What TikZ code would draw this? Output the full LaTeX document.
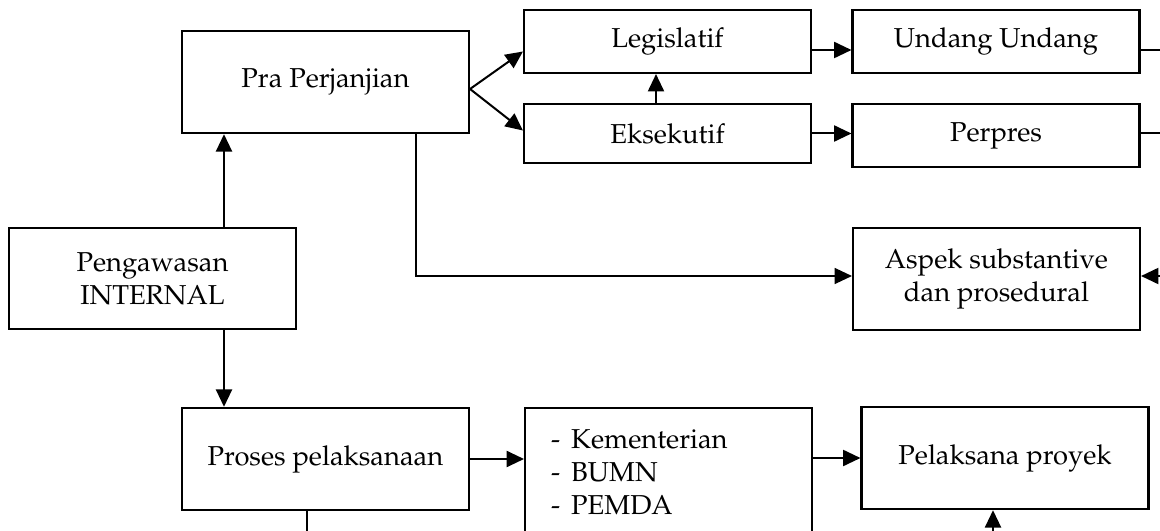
\documentclass[tikz,border=0pt]{standalone}
\usepackage[T1]{fontenc}
\usepackage{mathpazo}
\usepackage{tikz}
\usetikzlibrary{arrows.meta}
\usetikzlibrary{calc}

\begin{document}
\begin{tikzpicture}[x=0.75pt,y=0.75pt,yscale=-1,xscale=1,
  box/.style={draw,line width=1.8pt,minimum width=215pt,inner sep=0pt,align=center,font=\fontsize{20.5}{24.5}\selectfont},
  arr/.style={line width=1.5pt,-{Triangle[length=13pt,width=12pt]}},
  thin/.style={line width=1.1pt}]
%set diagram size 1160 x 531
\useasboundingbox (0,0) rectangle (1160,531);
\clip (0,0) rectangle (1160,531);

%Shape: Rectangle [id:pra]
\node[box,minimum height=76.5pt] (pra) at (325.5,82) {Pra Perjanjian};
%Shape: Rectangle [id:leg]
\node[box,minimum height=47pt] (leg) at (667.5,41.5) {Legislatif};
%Shape: Rectangle [id:eks]
\node[box,minimum height=44.25pt] (eks) at (667.5,133.5) {Eksekutif};
%Shape: Rectangle [id:uu]
\node[box,minimum height=47pt] (uu) at (996,41.5) {Undang Undang};
%Shape: Rectangle [id:perpres]
\node[box,minimum height=47pt] (perpres) at (996,135.5) {Perpres};
%Shape: Rectangle [id:aspek]
\node[box,minimum height=76.5pt] (aspek) at (996.5,279) {Aspek substantive\\dan prosedural};
%Shape: Rectangle [id:internal]
\node[box,minimum height=75.75pt] (internal) at (152.5,278.5) {Pengawasan\\INTERNAL};
%Shape: Rectangle [id:proses]
\node[box,minimum height=76.5pt] (proses) at (325.5,459) {Proses pelaksanaan};
%Shape: Rectangle [id:lst]
\node[box,anchor=north west,align=left,inner xsep=19.5pt,inner ysep=0pt,text width=176pt,text height=30.5pt,text depth=90pt] (lst) at (524,407)
  {\makebox[15pt][l]{-}Kementerian\\\makebox[15pt][l]{-}BUMN\\\makebox[15pt][l]{-}PEMDA};
%Shape: Rectangle [id:proyek]
\node[box,minimum height=76.5pt] (proyek) at (1005,458) {Pelaksana proyek};

% free ends
\coordinate (uuout) at (1170,50);
\coordinate (perout) at (1170,133);
\coordinate (aspin) at (1170,276);
\coordinate (proyin) at (993,545);
\coordinate (prosout) at (307,545);

%Straight Lines
\draw[arr] ($(internal.north)+(71.5,0)$) -- ($(pra.south)+(-101.5,0)$);
\draw[arr] ($(internal.south)+(71.5,0)$) -- ($(proses.north)+(-101.5,0)$);
\draw[arr] ($(pra.east)+(0,7)$) -- ($(leg.west)+(0,10)$);
\draw[arr] ($(pra.east)+(0,7)$) -- ($(eks.west)+(0,-3)$);
\draw[arr] ($(eks.north)+(-11.5,0)$) -- ($(leg.south)+(-11.5,0)$);
\draw[arr] ($(leg.east)+(0,8.5)$) -- ($(uu.west)+(0,8.5)$);
\draw[arr] (eks.east) -- (eks.east -| perpres.west);
\draw[thin] (uu.east |- uuout) -- (uuout);
\draw[thin] (perpres.east |- perout) -- (perout);
\draw[thin,-{Triangle[length=13pt,width=12pt]}] ($(pra.south)+(90.5,0)$) |- ($(aspek.west)+(0,-3)$);
\draw[arr] (aspin) -- (aspin -| aspek.east);
\draw[arr] (proses.east) -- (proses.east -| lst.west);
\draw[arr] (proyek.west -| lst.east) -- (proyek.west);
\draw[arr] (proyin) -- (proyin |- proyek.south);
\draw[line width=1.3pt] ($(proses.south)+(-18.5,0)$) -- (prosout);

\end{tikzpicture}
\end{document}
